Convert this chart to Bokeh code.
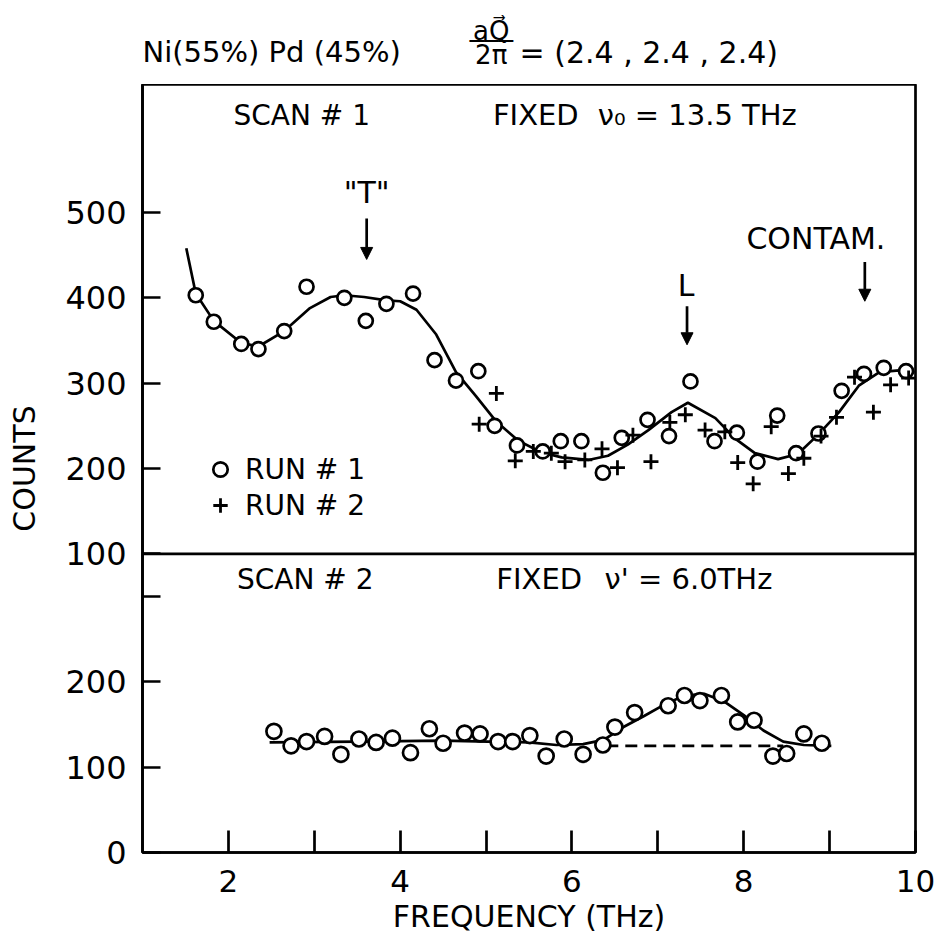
from bokeh.plotting import figure
from bokeh.layouts import column
from bokeh.models import (Range1d, FixedTicker, Span, Label, Arrow, NormalHead,
                          Legend, LegendItem)
from bokeh.embed import file_html
from bokeh.resources import INLINE

FONT = "DejaVu Sans"

# ---------------- data ----------------
# Scan 1 (fixed nu0 = 13.5 THz), run 1 (open circles)
scan1_run1_freq = [1.62, 1.83, 2.15, 2.35, 2.65, 2.91, 3.35, 3.60, 3.84, 4.15, 4.40,
                   4.65, 4.91, 5.10, 5.36, 5.66, 5.87, 6.11, 6.36, 6.58, 6.88, 7.13,
                   7.38, 7.66, 7.92, 8.16, 8.39, 8.61, 8.87, 9.14, 9.40, 9.63, 9.89]
scan1_run1_counts = [403, 372, 346, 340, 361, 413, 400, 373, 393, 405, 327,
                     303, 314, 250, 227, 220, 232, 232, 195, 236, 257, 238,
                     302, 232, 242, 208, 262, 218, 241, 291, 311, 318, 314]
# Scan 1, run 2 (plus signs)
scan1_run2_freq = [4.92, 5.12, 5.34, 5.55, 5.76, 5.92, 6.15, 6.35, 6.53, 6.71, 6.92,
                   7.14, 7.32, 7.55, 7.78, 7.93, 8.11, 8.32, 8.52, 8.70, 8.90, 9.08,
                   9.29, 9.51, 9.71, 9.92]
scan1_run2_counts = [252, 288, 209, 220, 218, 208, 210, 223, 201, 239, 208,
                     254, 263, 245, 243, 207, 182, 249, 194, 212, 238, 260,
                     307, 266, 298, 306]
# Scan 1 fitted curve
scan1_fit_freq = [1.51, 1.62, 1.83, 2.15, 2.35, 2.65, 2.95, 3.19, 3.35, 3.58, 3.84,
                  4.00, 4.19, 4.42, 4.65, 4.88, 5.11, 5.37, 5.64, 5.88, 6.19, 6.42,
                  6.65, 6.89, 7.16, 7.35, 7.67, 7.90, 8.13, 8.40, 8.63, 8.87, 9.11,
                  9.34, 9.58, 9.81, 9.99]
scan1_fit_counts = [458, 405, 373, 347, 343, 361, 388, 401, 403, 401, 397,
                    396, 386, 357, 313, 285, 256, 233, 219, 213, 210, 215,
                    228, 245, 266, 277, 259, 235, 218, 211, 217, 240, 266,
                    297, 313, 315, 313]
# Scan 2 (fixed nu' = 6.0 THz)
scan2_freq = [2.53, 2.73, 2.91, 3.12, 3.31, 3.52, 3.72, 3.91, 4.12, 4.34, 4.50,
              4.75, 4.93, 5.14, 5.31, 5.51, 5.70, 5.91, 6.13, 6.36, 6.50, 6.73,
              7.12, 7.31, 7.49, 7.74, 7.93, 8.12, 8.34, 8.50, 8.70, 8.91]
scan2_counts = [142, 125, 130, 136, 115, 133, 129, 134, 117, 145, 128,
                140, 139, 130, 130, 137, 113, 133, 115, 126, 147, 164,
                172, 184, 178, 184, 153, 155, 113, 116, 139, 128]
scan2_fit_freq = [2.48, 3.50, 4.50, 5.50, 5.82, 6.13, 6.37, 6.60, 6.84, 7.07, 7.31,
                  7.54, 7.77, 8.00, 8.23, 8.46, 8.70, 9.02]
scan2_fit_counts = [129, 130, 131, 129, 126, 127, 132, 147, 160, 173, 184,
                    186, 177, 161, 143, 130, 126, 125]
scan2_bg_freq = [6.40, 8.46]
scan2_bg_counts = [125, 125]

x_major_ticks = [2, 4, 6, 8, 10]
x_minor_ticks = [3, 5, 7, 9]
scan1_y_ticks = [100, 200, 300, 400, 500]
scan2_y_ticks = [0, 100, 200, 300]
scan2_y_labelled = [0, 100, 200]

# ---------------- layout ----------------
# Both scans share one frame; scan-1 counts sit OFFSET above scan-2 counts.
OFFSET = 250
TOP_RANGE = (-250, 650)
BOT_RANGE = (TOP_RANGE[0] + OFFSET, TOP_RANGE[1] + OFFSET)
DIVIDER = 100  # scan-1 counts at the panel divider
X_RANGE = (1, 10)

FRAME_W, FRAME_H = 773, 768
BORDER_L, BORDER_R, HEADER_H, BORDER_B = 142, 23, 84, 92
PX_Y = FRAME_H / (TOP_RANGE[1] - TOP_RANGE[0])

LW = 2.7

p = figure(frame_width=FRAME_W, frame_height=FRAME_H,
           x_range=Range1d(*X_RANGE), y_range=Range1d(*TOP_RANGE),
           output_backend="svg", toolbar_location=None, title=None,
           min_border_left=BORDER_L, min_border_top=0, min_border_right=BORDER_R,
           min_border_bottom=BORDER_B)
p.extra_y_ranges = {"scan2": Range1d(*BOT_RANGE)}
p.grid.visible = False
p.background_fill_color = "white"
p.border_fill_color = "white"
p.outline_line_color = "black"
p.outline_line_width = LW

# x axis
xa = p.xaxis[0]
xa.ticker = FixedTicker(ticks=x_major_ticks, minor_ticks=x_minor_ticks)
xa.major_tick_in = 22
xa.major_tick_out = 0
xa.minor_tick_in = 22
xa.minor_tick_out = 0
xa.axis_line_width = LW
xa.major_tick_line_width = LW
xa.minor_tick_line_width = LW
xa.major_label_text_font = FONT
xa.major_label_text_font_size = "31px"
xa.major_label_text_color = "black"
xa.major_label_standoff = 17
xa.axis_label = "FREQUENCY (THz)"
xa.axis_label_text_font = FONT
xa.axis_label_text_font_size = "30px"
xa.axis_label_text_font_style = "normal"
xa.axis_label_text_color = "black"
xa.axis_label_standoff = 4

# y axis (scan-1 ticks plus scan-2 ticks mapped onto the shared frame)
ya = p.yaxis[0]
y_ticks = [t - OFFSET for t in scan2_y_ticks] + scan1_y_ticks
ya.ticker = FixedTicker(ticks=y_ticks, minor_ticks=[])
ya.major_label_overrides = {t - OFFSET: (str(t) if t in scan2_y_labelled else "")
                            for t in scan2_y_ticks}
ya.major_tick_in = 18
ya.major_tick_out = 0
ya.axis_line_width = LW
ya.major_tick_line_width = LW
ya.major_label_text_font = FONT
ya.major_label_text_font_size = "32px"
ya.major_label_text_color = "black"
ya.major_label_standoff = 16
ya.axis_label = "COUNTS"
ya.axis_label_text_font = FONT
ya.axis_label_text_font_size = "30px"
ya.axis_label_text_font_style = "normal"
ya.axis_label_text_color = "black"
ya.axis_label_standoff = 20

# panel divider
p.add_layout(Span(location=DIVIDER, dimension="width", line_color="black",
                  line_width=LW))

# ---------------- glyphs ----------------
p.line(scan1_fit_freq, scan1_fit_counts, line_color="black", line_width=LW)
p.line(scan2_fit_freq, scan2_fit_counts, y_range_name="scan2",
       line_color="black", line_width=LW)
p.line(scan2_bg_freq, scan2_bg_counts, y_range_name="scan2",
       line_color="black", line_width=LW, line_dash="12 7")

r1 = p.scatter(scan1_run1_freq, scan1_run1_counts, marker="circle", size=14,
               fill_color="white", line_color="black", line_width=LW)
r2 = p.scatter(scan1_run2_freq, scan1_run2_counts, marker="cross", size=15,
               line_color="black", line_width=2.8)
p.scatter(scan2_freq, scan2_counts, y_range_name="scan2", marker="circle",
          size=15, fill_color="white", line_color="black", line_width=LW)

legend = Legend(items=[LegendItem(label="RUN # 1", renderers=[r1]),
                       LegendItem(label="RUN # 2", renderers=[r2])],
                location=(60, 329), orientation="vertical",
                border_line_color=None, background_fill_alpha=0,
                padding=0, margin=0, spacing=-6,
                glyph_width=36, glyph_height=36, label_height=30,
                label_standoff=7, label_text_font=FONT,
                label_text_font_size="28px", label_text_color="black")
p.add_layout(legend)

# ---------------- arrows ----------------
def arrow(x, y_tail, y_tip):
    p.add_layout(Arrow(end=NormalHead(size=12, fill_color="black",
                                      line_color="black", line_width=1),
                       x_start=x, y_start=y_tail, x_end=x, y_end=y_tip,
                       line_color="black", line_width=LW))

arrow(3.61, 493, 445)
arrow(7.34, 390, 345)
arrow(9.41, 442, 396)

# ---------------- texts ----------------
def label(fig, x, y, text, size="29px", align="left", baseline="middle",
          rng="default", font=FONT):
    fig.add_layout(Label(x=x, y=y, text=text, text_font=font,
                         text_font_size=size, text_align=align,
                         text_baseline=baseline, y_range_name=rng,
                         text_color="black"))

label(p, 3.61, 523, '"T"', size="30px", align="center")
label(p, 7.33, 415, "L", size="30px", align="center")
label(p, 8.84, 470, "CONTAM.", size="30px", align="center")

label(p, 2.06, 614, "SCAN # 1", size="28px")
label(p, 5.08, 614, "FIXED", size="29px")
label(p, 6.30, 614, "\u03bd\u2080 = 13.5 THz", size="29px")

label(p, 2.10, 320, "SCAN # 2", size="28px", rng="scan2")
label(p, 5.12, 320, "FIXED", size="29px", rng="scan2")
label(p, 6.38, 320, "\u03bd' = 6.0THz", size="29px", rng="scan2")

# ---------------- header strip above the frame (same x / count scales) -----
head = figure(frame_width=FRAME_W, frame_height=HEADER_H,
              x_range=p.x_range,
              y_range=Range1d(TOP_RANGE[1], TOP_RANGE[1] + HEADER_H / PX_Y),
              x_axis_type=None, y_axis_type=None, output_backend="svg",
              toolbar_location=None, title=None,
              min_border_left=BORDER_L, min_border_right=BORDER_R,
              min_border_top=0, min_border_bottom=0)
head.grid.visible = False
head.outline_line_color = None
head.background_fill_color = "white"
head.border_fill_color = "white"

label(head, 1.0, 688, "Ni(55%) Pd (45%)", size="29px")
label(head, 5.06, 713, "aQ\u20d7", size="26px", align="center")
label(head, 5.06, 701, "\u2500\u2500\u2500", size="24px", align="center",
      font="DejaVu Sans Mono")
label(head, 5.06, 685, "2\u03c0", size="26px", align="center")
label(head, 5.39, 688, "= (2.4 , 2.4 , 2.4)", size="30px")

layout = column(head, p, spacing=0)
open("out.html", "w").write(file_html(layout, INLINE))
